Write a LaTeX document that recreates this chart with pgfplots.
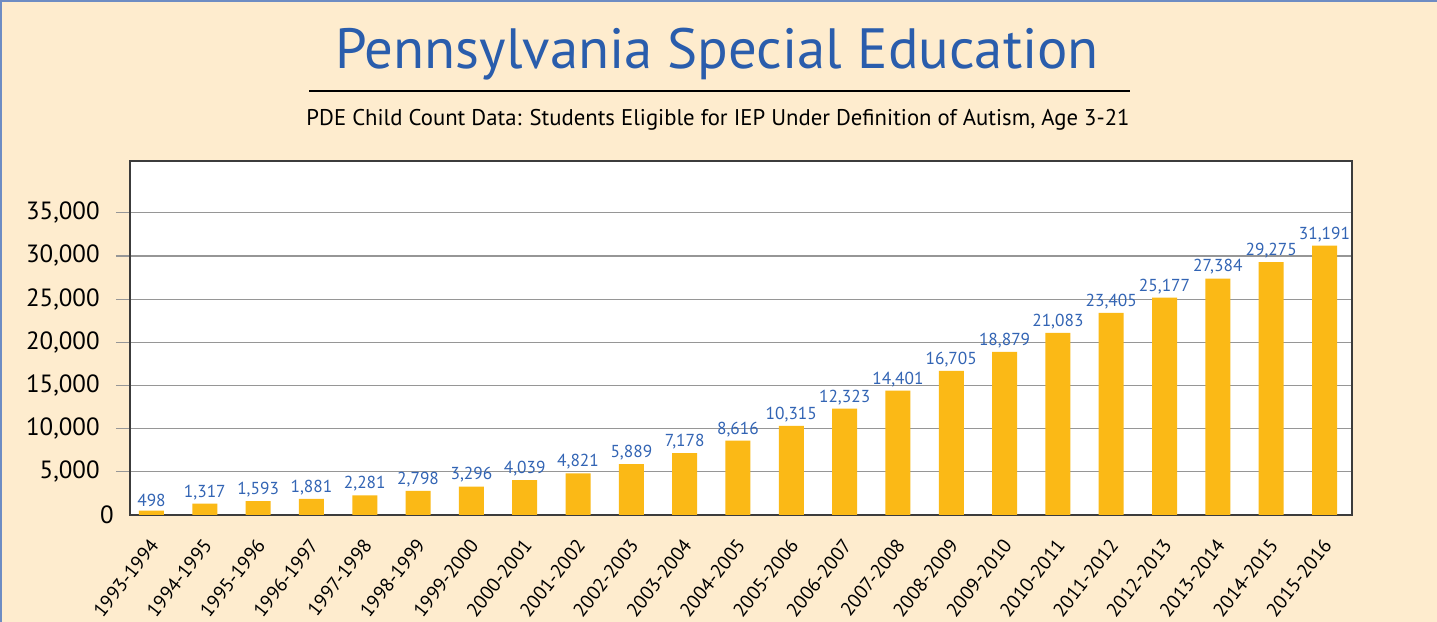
\documentclass[border=0pt]{standalone}
\usepackage{pgfplots}
\pgfplotsset{compat=1.18}
\usepackage{fontspec}
\setmainfont{PT Sans}
\definecolor{bgpeach}{RGB}{254,236,206}
\definecolor{frameblue}{RGB}{110,140,195}
\definecolor{titleblue}{RGB}{42,93,172}
\definecolor{lblblue}{RGB}{50,100,180}
\definecolor{barorange}{RGB}{251,185,22}
\definecolor{gridgray}{RGB}{150,150,150}
\definecolor{axisdark}{RGB}{60,60,60}
\begin{document}
\begin{tikzpicture}
\path[use as bounding box] (0,0) rectangle (718.5bp,311bp);
\fill[bgpeach] (0,0) rectangle (718.5bp,311bp);
\draw[frameblue, line width=1.2bp] (0.6bp,0) -- (0.6bp,310.4bp) -- (718.5bp,310.4bp);
\node[anchor=base, text=titleblue, font=\fontsize{28.5}{32}\selectfont] at (358.5bp,276.5bp) {Pennsylvania Special Education};
\draw[black, line width=0.7bp] (154.5bp,265.5bp) -- (565bp,265.5bp);
\node[anchor=base, text=black, font=\fontsize{11.4}{14}\selectfont] at (359bp,248bp) {PDE Child Count Data: Students Eligible for IEP Under Definition of Autism, Age 3-21};
\begin{axis}[
  at={(65bp,53.5bp)}, anchor=south west,
  scale only axis, width=611bp, height=177bp,
  xmin=-0.403, xmax=22.516, ymin=0, ymax=41000,
  axis background/.style={fill=white},
  axis line style={axisdark, line width=0.8bp},
  ybar, bar width=12.5bp,
  xtick={0,...,22},
  xticklabels={1993-1994,1994-1995,1995-1996,1996-1997,1997-1998,1998-1999,1999-2000,2000-2001,2001-2002,2002-2003,2003-2004,2004-2005,2005-2006,2006-2007,2007-2008,2008-2009,2009-2010,2010-2011,2011-2012,2012-2013,2013-2014,2014-2015,2015-2016},
  x tick style={draw=none},
  xticklabel style={rotate=52, anchor=east, inner sep=0pt, font=\fontsize{9.8}{11}\selectfont, yshift=-5bp, xshift=-4bp},
  ytick={5000,10000,...,35000},
  extra y ticks={0},
  extra y tick style={major tick length=0pt, grid=none},
  ytick pos=left,
  tick align=outside,
  major tick length=7bp,
  y tick style={gridgray, line width=0.6bp},
  ymajorgrids,
  major grid style={gridgray, line width=0.6bp},
  yticklabel style={font=\fontsize{12.5}{14}\selectfont, inner sep=0pt, anchor=east, xshift=-8bp},
  /pgf/number format/.cd, fixed, precision=0, 1000 sep={,}, assume math mode=true,
  /pgfplots/.cd,
  scaled y ticks=false,
  nodes near coords,
  every node near coord/.append style={text=lblblue, font=\fontsize{8.7}{10}\selectfont, inner sep=0pt, anchor=south, yshift=1.8bp},
]
\addplot[fill=barorange, draw=none] coordinates {
(0,498) (1,1317) (2,1593) (3,1881) (4,2281) (5,2798) (6,3296) (7,4039) (8,4821) (9,5889) (10,7178) (11,8616) (12,10315) (13,12323) (14,14401) (15,16705) (16,18879) (17,21083) (18,23405) (19,25177) (20,27384) (21,29275) (22,31191)
};
\end{axis}
\end{tikzpicture}
\end{document}
